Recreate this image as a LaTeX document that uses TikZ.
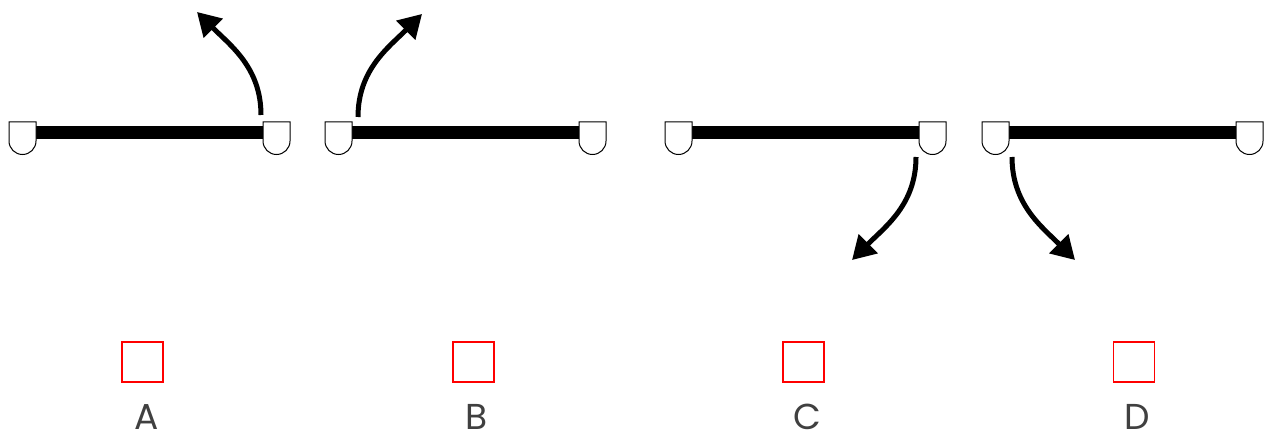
\documentclass[tikz,border=0pt]{standalone}
\usepackage{fontspec}
\setmainfont{Poppins}
\usetikzlibrary{arrows.meta}
\definecolor{labelgray}{HTML}{404040}
\tikzset{
  capshape/.style={draw=black, line width=1pt, fill=white},
  barshape/.style={fill=black, draw=none},
  swing/.style={line width=5pt, -{Triangle[length=23pt,width=26pt]}},
  markbox/.style={draw=red, line width=1.6pt, minimum width=41pt, minimum height=40pt, inner sep=0pt},
  letter/.style={text=labelgray, font=\fontsize{36}{40}\selectfont, anchor=base, inner sep=0pt}
}
\begin{document}
\begin{tikzpicture}[x=1pt,y=1pt]
\useasboundingbox (0,0) rectangle (1265,434);
% bars and caps
\foreach \l/\r in {9/263, 325/579, 665/919, 982/1236}{
  \fill[barshape] (\l+27,295) rectangle (\r,308);
  \draw[capshape] (\l,312) -- (\l+27,312) -- (\l+27,293) arc (0:-180:13.5) -- cycle;
  \draw[capshape] (\r,312) -- (\r+27,312) -- (\r+27,293) arc (0:-180:13.5) -- cycle;
}
% arrows
\coordinate (sa) at (261,319); \coordinate (ea) at (197,422);
\coordinate (sb) at (358,317); \coordinate (eb) at (422,420);
\coordinate (sc) at (916,277); \coordinate (ec) at (852,174);
\coordinate (sd) at (1012,277); \coordinate (ed) at (1075,174);
\draw[swing] (sa) to[out=90,in=-45] (ea);
\draw[swing] (sb) to[out=90,in=-135] (eb);
\draw[swing] (sc) to[out=-90,in=45] (ec);
\draw[swing] (sd) to[out=-90,in=135] (ed);
% boxes
\node[markbox] (boxa) at (142.5,72) {};
\node[markbox] (boxb) at (473.5,72) {};
\node[markbox] (boxc) at (803.5,72) {};
\node[markbox] (boxd) at (1134,72) {};
% labels
\node[letter] (la) at (147,5) {A};
\node[letter] (lb) at (477,5) {B};
\node[letter] (lc) at (807,5) {C};
\node[letter] (ld) at (1137,5) {D};
\end{tikzpicture}
\end{document}
